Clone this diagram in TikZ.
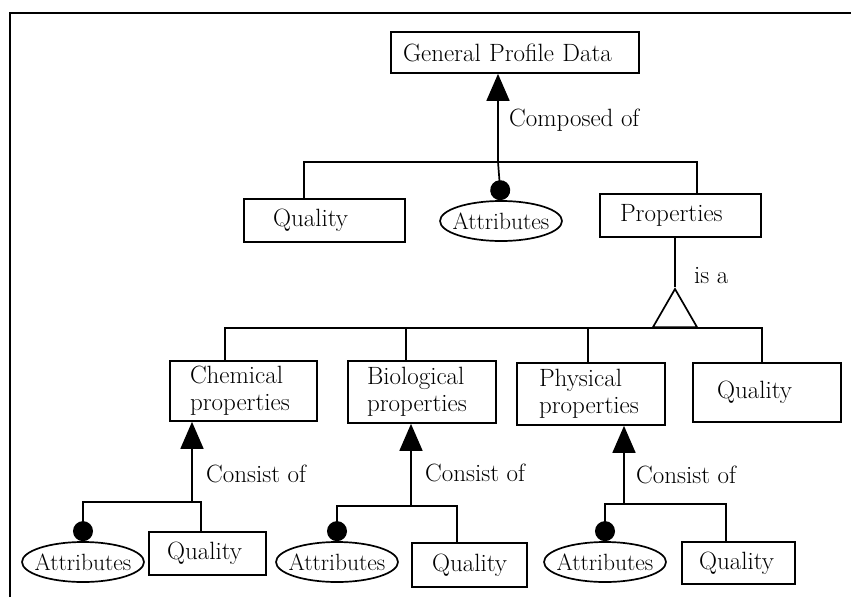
\documentclass[tikz,border=0pt]{standalone}
\usepackage{fontspec}
\usepackage{tikz}
\usetikzlibrary{arrows.meta,positioning,shapes.geometric}

\begin{document}
\begin{tikzpicture}[x=1pt,y=-1pt,>={Triangle[length=27pt,width=23pt]},line width=1.7pt,
		every node/.style={font=\fontsize{25}{27}\selectfont},
		box/.style={draw,rectangle,align=left,inner ysep=0pt},
		attr/.style={draw,ellipse,inner sep=0pt,minimum width=122pt,minimum height=40pt,font=\fontsize{23.5}{27}\selectfont},
		ball/.style={-{Circle[length=20pt]}}]
		\useasboundingbox (0,0) rectangle (851,597);
		\draw (10,597) -- (10,13) -- (851,13);

		% top level
		\node[box,text width=224pt,inner xsep=12pt,minimum height=41pt] (gpd) at (515,52.5) {General Profile Data};
		\node[box,text width=103pt,inner xsep=29pt,minimum height=43pt] (q1) at (324.5,220.5) {Quality};
		\node[attr] (a1) at (501,221) {\makebox[0pt]{Attributes}};
		\node[box,text width=121pt,inner xsep=20pt,minimum height=43pt] (prop) at (680.5,215.5) {Properties};
		\node[draw,regular polygon,regular polygon sides=3,inner sep=0pt,minimum size=50.8pt] (isa) at (675,314.4) {};

		% kinds of properties
		\node[box,text width=107pt,inner xsep=20pt,minimum height=60pt] (chem) at (243.5,391) {Chemical\\properties};
		\node[box,text width=110pt,inner xsep=19pt,minimum height=62pt] (bio) at (422,392) {Biological\\properties};
		\node[box,text width=104pt,inner xsep=22pt,minimum height=62pt] (phys) at (591,394) {Physical\\properties};
		\node[box,text width=100pt,inner xsep=24pt,minimum height=59pt] (q2) at (767,392.5) {Quality};

		% bottom row
		\node[attr] (ac) at (83,562) {\makebox[0pt]{Attributes}};
		\node[box,text width=81pt,inner xsep=18pt,minimum height=43pt] (qc) at (207.5,553.5) {Quality};
		\node[attr] (ab) at (337,562) {\makebox[0pt]{Attributes}};
		\node[box,text width=75pt,inner xsep=20pt,minimum height=44pt] (qb) at (469.5,565) {Quality};
		\node[attr] (ap) at (605,562) {\makebox[0pt]{Attributes}};
		\node[box,text width=79pt,inner xsep=17pt,minimum height=42pt] (qp) at (738.5,563) {Quality};

		\coordinate (j0) at (498,162);
		\coordinate (j1) at (675,328);
		\coordinate (jc) at (192,502);
		\coordinate (jb) at (411,506);
		\coordinate (jp) at (624,504);

		\draw[->] (j0) -- node[right=7pt,pos=.47] (lcomp) {Composed of} (j0 |- gpd.south);
		\draw ([xshift=-20.5pt]q1.north) |- (j0) -| ([xshift=16.5pt]prop.north);
		\draw[ball] (j0) -- (a1.north);

		\draw (isa.corner 1 |- prop.south) -- node[right=15pt,pos=.77] (lisa) {is a} (isa.corner 1);
		\draw ([xshift=-18.5pt]chem.north) |- (j1) -| ([xshift=-5pt]q2.north);
		\draw ([xshift=-16pt]bio.north) -- ([xshift=-16pt]bio.north |- j1);
		\draw ([xshift=-3pt]phys.north) -- ([xshift=-3pt]phys.north |- j1);

		\draw[->] (jc) -- node[right=10pt,pos=.35] (lchem) {Consist of} (jc |- chem.south);
		\draw[ball] ([xshift=-6.5pt]qc.north) |- (ac.north |- jc) -- (ac.north);
		\draw[->] (jb) -- node[right=10pt,pos=.4] (lbio) {Consist of} (jb |- bio.south);
		\draw[ball] ([xshift=-12.5pt]qb.north) |- (ab.north |- jb) -- (ab.north);
		\draw[->] (jp) -- node[right=8pt,pos=.37] (lphys) {Consist of} (jp |- phys.south);
		\draw[ball] ([xshift=-12.5pt]qp.north) |- (ap.north |- jp) -- (ap.north);
\end{tikzpicture}
\end{document}
